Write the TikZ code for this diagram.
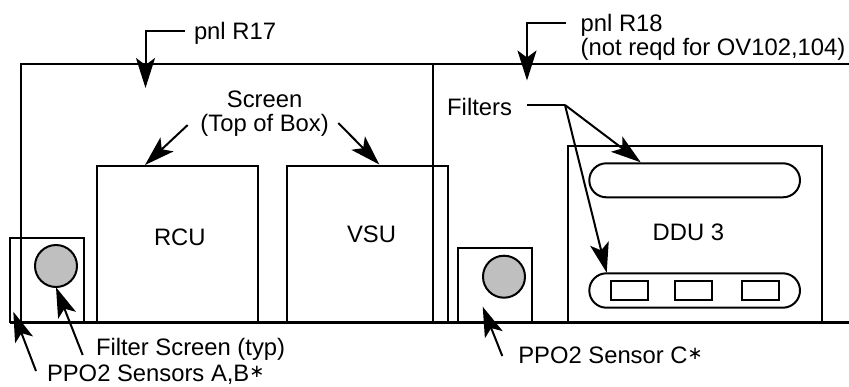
\documentclass[tikz,border=0pt]{standalone}
\usepackage{fontspec}
\setmainfont{Liberation Sans}
\newfontfamily\symfont{DejaVu Sans}
\usetikzlibrary{arrows.meta,shapes.misc}
\tikzset{
  boxn/.style={draw=black,line width=2pt,rectangle,inner sep=0pt,outer sep=0pt,anchor=north west},
  pill/.style={draw=black,line width=2pt,rounded rectangle,inner sep=0pt,outer sep=0pt},
  sensordisc/.style={draw=black,fill=black!25,line width=2pt,circle,inner sep=0pt,outer sep=0pt,minimum size=42pt},
  lab/.style={inner sep=0pt,outer sep=0pt,anchor=base west,font=\fontsize{23.8}{27}\selectfont},
  labc/.style={inner sep=0pt,outer sep=0pt,anchor=base,font=\fontsize{23.8}{27}\selectfont},
  panelline/.style={line width=2pt},
  floorline/.style={line width=3pt},
  arr/.style={line width=2pt,-{Stealth[length=30pt,width=19pt,inset=7pt]}},
  lead/.style={line width=2pt}
}
\newcommand{\starmark}{\raisebox{4pt}{\symfont\fontsize{18}{20}\selectfont ∗}}
\begin{document}
\begin{tikzpicture}[x=1pt,y=-1pt]
\useasboundingbox (0,0) rectangle (849,386);
% panels
\coordinate (pnlTL) at (20.5,63.5);
\coordinate (pnlTR) at (849,63.5);
\coordinate (pnlML) at (20.5,322.3);
\coordinate (divT) at (432.5,63.5);
\coordinate (divB) at (432.5,322.3);
\coordinate (floorL) at (10,322.3);
\coordinate (floorR) at (849,322.3);
\draw[panelline] (pnlML) -- (pnlTL) -- (pnlTR);
\draw[panelline] (divT) -- (divB);
% boxes
\node[boxn,minimum width=161pt,minimum height=157pt] (rcu) at (97,165.5) {};
\node[boxn,minimum width=161pt,minimum height=157pt] (vsu) at (286.5,165.5) {};
\node[boxn,minimum width=74pt,minimum height=84pt] (sab) at (10,238.3) {};
\node[boxn,minimum width=74.3pt,minimum height=74pt] (sc) at (458,248.3) {};
\node[boxn,minimum width=253.7pt,minimum height=176.6pt] (ddu) at (568,145.7) {};
\draw[floorline] (floorL) -- (floorR);
% discs
\node[sensordisc] (dab) at (56,266) {};
\node[sensordisc] (dc) at (504,276.7) {};
% filters
\node[pill,minimum width=210.7pt,minimum height=34pt] (ftop) at (694.65,180.3) {};
\node[pill,minimum width=210.7pt,minimum height=34.4pt] (fbot) at (694.65,290.5) {};
\node[boxn,minimum width=37.3pt,minimum height=18.7pt] (w1) at (611,281) {};
\node[boxn,minimum width=37.3pt,minimum height=18.7pt] (w2) at (675,281) {};
\node[boxn,minimum width=37.3pt,minimum height=18.7pt] (w3) at (741.7,281) {};
% labels
\node[lab] (t17) at (194,39) {pnl R17};
\node[lab] (t18) at (580.7,31) {pnl R18};
\node[lab] (t18b) at (580.7,55) {(not reqd for OV102,104)};
\node[labc] (tscr) at (264.6,107.7) {Screen};
\node[labc] (ttop) at (264.6,131.7) {(Top of Box)};
\node[lab] (tfil) at (447.2,115) {Filters};
\node[lab] (trcu) at (154,245) {RCU};
\node[lab] (tvsu) at (347,242.7) {VSU};
\node[lab] (tddu) at (652.7,240.7) {DDU 3};
\node[lab] (tfs) at (96,355) {Filter Screen (typ)};
\node[lab] (tab) at (47,381.7) {PPO2 Sensors A,B\starmark};
\node[lab] (tc) at (518.3,363.3) {PPO2 Sensor C\starmark};
% connector ends
\coordinate (a17s) at (185,30.5);
\coordinate (a17k) at (145.5,30.5);
\coordinate (a17t) at (145.5,88);
\coordinate (a18s) at (566,23);
\coordinate (a18k) at (527,23);
\coordinate (a18t) at (527,80.5);
\coordinate (sLs) at (187.7,125);
\coordinate (sLt) at (145,165);
\coordinate (sRs) at (338.3,123);
\coordinate (sRt) at (379.3,164.5);
\coordinate (fs) at (526.7,105);
\coordinate (fk) at (565,105);
\coordinate (ft1) at (640.7,162.3);
\coordinate (ft2) at (606.7,272.7);
\coordinate (fss) at (82.7,355);
\coordinate (fst) at (56,287.3);
\coordinate (abs) at (36,371);
\coordinate (abt) at (13.3,311.7);
\coordinate (cs) at (502.3,356);
\coordinate (ct) at (482.7,306.7);
% connectors
\draw[arr] (a17s) -- (a17k) -- (a17t);
\draw[arr] (a18s) -- (a18k) -- (a18t);
\draw[arr] (sLs) -- (sLt);
\draw[arr] (sRs) -- (sRt);
\draw[lead] (fs) -- (fk);
\draw[arr] (fk) -- (ft1);
\draw[arr] (fk) -- (ft2);
\draw[arr] (fss) -- (fst);
\draw[arr] (abs) -- (abt);
\draw[arr] (cs) -- (ct);
\end{tikzpicture}
\end{document}
